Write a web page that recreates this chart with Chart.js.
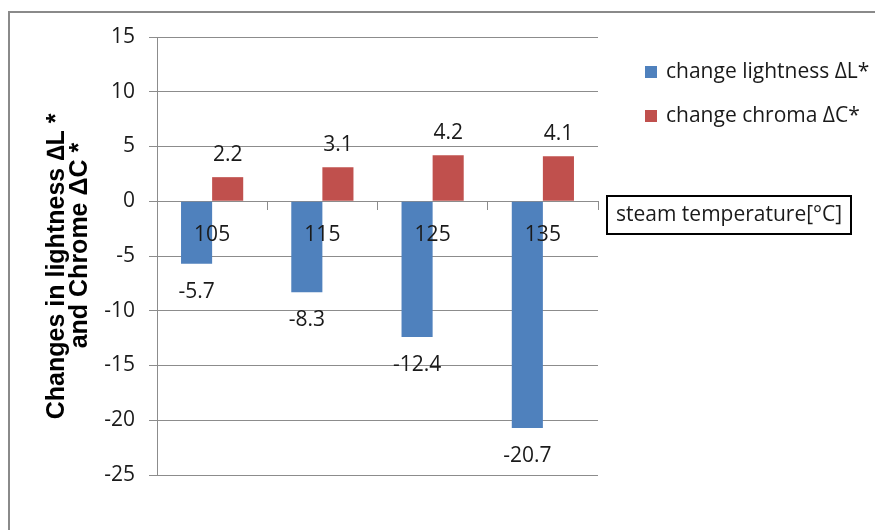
<!DOCTYPE html>
<html>
<head>
<meta charset="utf-8">
<script src="https://cdn.jsdelivr.net/npm/chart.js@4/dist/chart.umd.min.js"></script>
<style>
  body { margin: 0; background: #fff; }
  #wrap { width: 875px; height: 530px; position: relative; }
</style>
</head>
<body>
<div id="wrap"><canvas id="myChart"></canvas></div>
<script>
const temperatures = ['105', '115', '125', '135'];
const lightness = [-5.7, -8.3, -12.4, -20.7];
const chroma = [2.2, 3.1, 4.2, 4.1];
const seriesNames = ['change lightness \u0394L*', 'change chroma \u0394C*'];
const yTitle = ['Changes in lightness \u2206L *   ', '   and Chrome \u0394C *'];
const boxLabel = 'steam temperature[\u00b0C]';

const FONT = "'Open Sans', sans-serif";
const GRID = '#8c8c8c';

// frame, legend, text box and value labels
const extras = {
  id: 'extras',
  beforeDraw(chart) {
    const c = chart.ctx;
    c.save();
    c.fillStyle = '#fff';
    c.fillRect(0, 0, chart.width, chart.height);
    c.strokeStyle = '#8a8a8a';
    c.lineWidth = 2;
    c.beginPath();
    c.moveTo(9, 540);
    c.lineTo(9, 12);
    c.lineTo(880, 12);
    c.stroke();
    c.restore();
  },
  afterDatasetsDraw(chart) {
    const c = chart.ctx;
    c.save();
    c.font = '21px ' + FONT;
    c.fillStyle = '#1a1a1a';
    c.textAlign = 'center';
    c.textBaseline = 'middle';
    chart.data.datasets.forEach((ds, i) => {
      chart.getDatasetMeta(i).data.forEach((bar, j) => {
        const v = ds.data[j];
        const y = v >= 0 ? bar.y - 22 : bar.y + 28;
        c.fillText(String(v), bar.x, y);
      });
    });
    c.restore();
  },
  afterDraw(chart) {
    const c = chart.ctx;
    c.save();
    c.font = '21px ' + FONT;
    c.textBaseline = 'middle';
    c.textAlign = 'left';
    chart.data.datasets.forEach((ds, i) => {
      const y = 72 + i * 44;
      c.fillStyle = ds.backgroundColor;
      c.fillRect(645, y - 6, 12, 12);
      c.fillStyle = '#1a1a1a';
      c.fillText(ds.label, 666, y);
    });
    c.fillStyle = '#fff';
    c.fillRect(607, 196, 244, 38);
    c.strokeStyle = '#000';
    c.lineWidth = 2;
    c.strokeRect(607, 196, 244, 38);
    c.fillStyle = '#1a1a1a';
    c.fillText(boxLabel, 616, 215.5);
    c.restore();
  },
};

const ctx = document.getElementById('myChart').getContext('2d');
const myChart = new Chart(ctx, {
  type: 'bar',
  data: {
    labels: temperatures,
    datasets: [
      {
        label: seriesNames[0],
        data: lightness,
        backgroundColor: '#4f81bd',
        categoryPercentage: 0.564,
        barPercentage: 1,
      },
      {
        label: seriesNames[1],
        data: chroma,
        backgroundColor: '#c0504d',
        categoryPercentage: 0.564,
        barPercentage: 1,
      },
    ],
  },
  options: {
    responsive: true,
    maintainAspectRatio: false,
    animation: false,
    layout: { padding: { left: 20, top: 37, right: 277, bottom: 55 } },
    plugins: {
      legend: { display: false },
      tooltip: { enabled: false },
    },
    scales: {
      x: {
        position: { y: 0 },
        grid: {
          display: true,
          drawOnChartArea: false,
          drawTicks: true,
          tickLength: 8,
          color: GRID,
          offset: true,
        },
        border: { display: true, color: GRID },
        ticks: {
          z: 1,
          padding: 13,
          color: '#1a1a1a',
          font: { family: FONT, size: 21 },
        },
      },
      y: {
        min: -25,
        max: 15,
        ticks: {
          stepSize: 5,
          padding: 14,
          color: '#1a1a1a',
          font: { family: FONT, size: 21 },
        },
        grid: { color: GRID, tickLength: 8 },
        border: { display: true, color: GRID },
        title: {
          display: true,
          text: yTitle,
          color: '#000',
          padding: { top: 26, bottom: 0 },
          font: { family: "'Liberation Sans', Arial, sans-serif", size: 25, weight: 'bold', lineHeight: 0.92 },
        },
        afterFit: (scale) => {
          scale.width = 137;
        },
      },
    },
  },
  plugins: [extras],
});
</script>
</body>
</html>
